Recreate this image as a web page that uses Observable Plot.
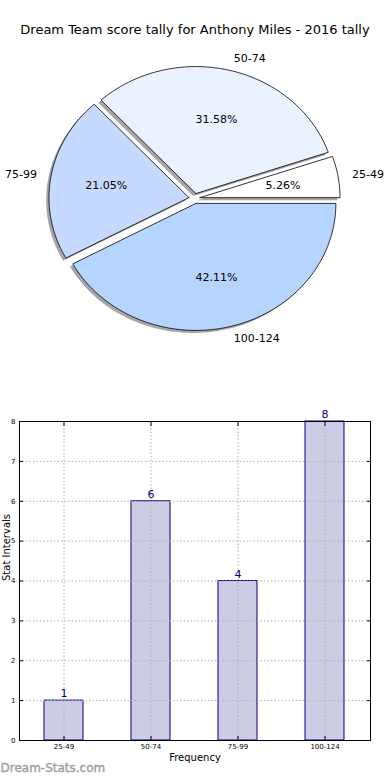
<!DOCTYPE html>
<html>
<head>
<meta charset="utf-8">
<script src="https://cdn.jsdelivr.net/npm/d3@7"></script>
<script src="https://cdn.jsdelivr.net/npm/@observablehq/plot@0.6"></script>
<style>
  html, body { margin: 0; padding: 0; background: white; }
  body { width: 390px; height: 780px; overflow: hidden; font-family: "DejaVu Sans", sans-serif; }
  #title { height: 40px; box-sizing: border-box; padding-top: 21px; line-height: 18px; text-align: center; font-size: 13px; color: #000; }
  svg { display: block; }
</style>
</head>
<body>
<div id="title">Dream Team score tally for Anthony Miles - 2016 tally</div>
<div id="pie"></div>
<div id="bar"></div>
<script>
// ---- data ----
const categories = ["25-49", "50-74", "75-99", "100-124"];
const counts = [1, 6, 4, 8];
const yTicks = [0, 1, 2, 3, 4, 5, 6, 7, 8];

// ---- styles ----
const pieColors = ["#ffffff", "#eaf1ff", "#c6d9ff", "#b5d5ff"];
const explode = 0.04;

// ---- pie (built from counts) ----
const W = 390, H = 350, cx = 194, cy = 158, rx = 140, ry = 127;
const total = d3.sum(counts);
const rad = a => a * Math.PI / 180;
let start = 0;
const slices = categories.map((cat, i) => {
  const a0 = start, a1 = start + 360 * counts[i] / total;
  start = a1;
  const mid = rad((a0 + a1) / 2);
  const sx = explode * Math.cos(mid), sy = explode * Math.sin(mid);
  const n = Math.max(2, Math.ceil(a1 - a0));
  const pts = [{u: sx, v: sy}];
  for (let k = 0; k <= n; k++) {
    const a = rad(a0 + (a1 - a0) * k / n);
    pts.push({u: sx + Math.cos(a), v: sy + Math.sin(a)});
  }
  pts.push({u: sx, v: sy});
  return {
    cat, i, pts,
    shadow: pts.map(p => ({u: p.u - 0.02, v: p.v - 0.02})),
    pct: {u: sx + 0.6 * Math.cos(mid), v: sy + 0.6 * Math.sin(mid), text: d3.format(".2f")(100 * counts[i] / total) + "%"},
    lab: {u: sx + 1.1 * Math.cos(mid), v: sy + 1.1 * Math.sin(mid), text: cat, right: Math.cos(mid) > 0}
  };
});

const pieMarks = [];
slices.forEach(s => {
  pieMarks.push(Plot.line(s.shadow, {x: "u", y: "v", fill: "#4d4d4d", fillOpacity: 0.5, stroke: "none"}));
  pieMarks.push(Plot.line(s.pts, {x: "u", y: "v", fill: pieColors[s.i], stroke: "black", strokeWidth: 0.8}));
});
pieMarks.push(Plot.text(slices.map(s => s.pct), {x: "u", y: "v", text: "text", fill: "#000", fontSize: 11}));
pieMarks.push(Plot.text(slices.filter(s => s.lab.right).map(s => s.lab), {x: "u", y: "v", text: "text", textAnchor: "start", fill: "#000", fontSize: 11}));
pieMarks.push(Plot.text(slices.filter(s => !s.lab.right).map(s => s.lab), {x: "u", y: "v", text: "text", textAnchor: "end", fill: "#000", fontSize: 11}));

const pie = Plot.plot({
  width: W, height: H,
  marginTop: 0, marginBottom: 0, marginLeft: 0, marginRight: 0,
  style: {fontFamily: "DejaVu Sans", background: "white", overflow: "visible"},
  x: {domain: [-cx / rx, (W - cx) / rx], axis: null},
  y: {domain: [-(H - cy) / ry, cy / ry], axis: null},
  marks: pieMarks
});
document.getElementById("pie").appendChild(pie);

// ---- bar chart ----
const rows = categories.map((c, i) => ({cat: c, count: counts[i]}));
const gridStyle = {stroke: "#b0b0b0", strokeOpacity: 1, strokeDasharray: "1.5,2"};
const bar = Plot.plot({
  width: 390, height: 390,
  marginTop: 31, marginBottom: 40, marginLeft: 19, marginRight: 20,
  style: {fontFamily: "DejaVu Sans", fontSize: "7px", background: "white", overflow: "visible", color: "#000"},
  x: {type: "band", domain: categories, paddingInner: 0.55, paddingOuter: 0.275, align: 0.5, label: null},
  y: {domain: [0, 8], label: null},
  marks: [
    Plot.barY(rows, {x: "cat", y: "count", fill: "#ccccE5", stroke: "#000080", strokeWidth: 1}),
    Plot.ruleX(categories, {x: d => d, ...gridStyle}),
    Plot.gridY({ticks: yTicks, ...gridStyle}),
    Plot.text(rows, {x: "cat", y: "count", text: d => String(d.count), dy: -7, fill: "#000080", fontSize: 11}),
    Plot.frame({stroke: "black"}),
    Plot.axisY({anchor: "left", ticks: yTicks, tickSize: -4, tickPadding: 8, tickFormat: d => String(d), label: null}),
    Plot.axisY({anchor: "right", ticks: yTicks, tickSize: -4, tickFormat: () => "", label: null}),
    Plot.axisX({anchor: "bottom", tickSize: -4, tickPadding: 8, label: null}),
    Plot.axisX({anchor: "top", tickSize: -4, tickFormat: () => "", label: null}),
    Plot.text(["Frequency"], {frameAnchor: "bottom", dy: 20, fontSize: 10, fill: "#000"}),
    Plot.text(["Stat Intervals"], {frameAnchor: "left", rotate: -90, dx: -13, fontSize: 10, fill: "#000"}),
    Plot.text(["Dream-Stats.com"], {frameAnchor: "bottom-left", dx: -19, dy: 31, textAnchor: "start", fontSize: 12, fill: "#a0a0a0", stroke: "#a0a0a0", strokeWidth: 0.4})
  ]
});
document.getElementById("bar").appendChild(bar);
</script>
</body>
</html>
